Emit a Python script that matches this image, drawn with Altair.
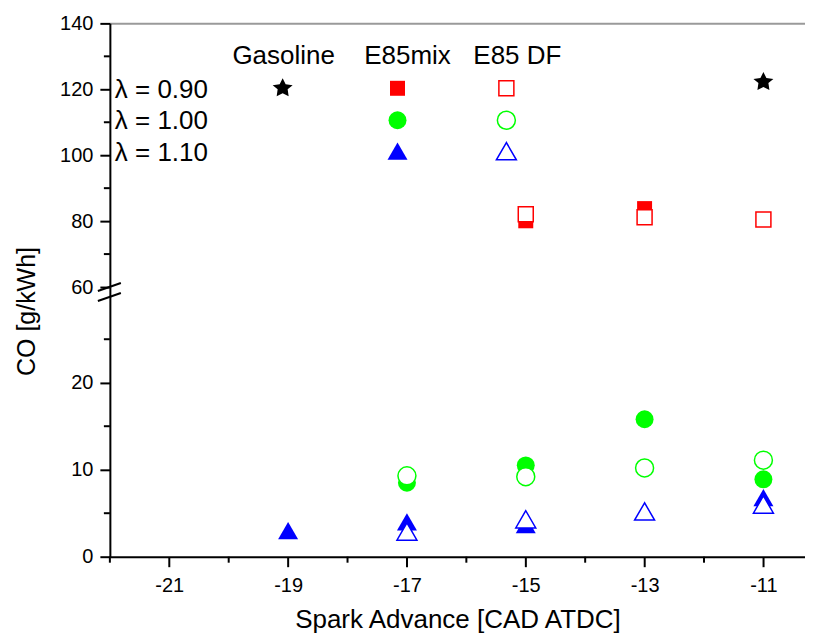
import altair as alt
import pandas as pd

FONT = "Liberation Sans"

# ---- data (Spark advance [CAD ATDC], CO [g/kWh]) ----
gas_l090_sa = [-11]
gas_l090_co = [122.2]
mix_l090_sa = [-15, -13]
mix_l090_co = [80.1, 83.8]
df_l090_sa = [-15, -13, -11]
df_l090_co = [82.1, 81.2, 80.5]
mix_l100_sa = [-17, -15, -13, -11]
mix_l100_co = [8.5, 10.5, 15.8, 8.9]
df_l100_sa = [-17, -15, -13, -11]
df_l100_co = [9.3, 9.2, 10.2, 11.1]
mix_l110_sa = [-19, -17, -15, -11]
mix_l110_co = [3.0, 4.0, 3.7, 6.8]
df_l110_sa = [-17, -15, -13, -11]
df_l110_co = [2.9, 4.3, 5.2, 6.0]

x_major = [-21, -19, -17, -15, -13, -11]
x_minor = [-22, -20, -18, -16, -14, -12]
y_low_major = [0, 10, 20]
y_low_minor = [5, 15, 25]
y_up_major = [60, 80, 100, 120, 140]
y_up_minor = [70, 90, 110, 130]

fuel_labels = ["Gasoline", "E85mix", "E85 DF"]
lambda_labels = ["\u03bb = 0.90", "\u03bb = 1.00", "\u03bb = 1.10"]

# ---- layout ----
W = 696
H_UP = 264
H_LOW = 270
X_DOM = [-22, -10.3]
Y_UP = [60, 140]
Y_LOW = [0, 31]

RED, GREEN, BLUE = "#ff0000", "#00ff00", "#0000ff"
STAR = "M0,.5L.6,.8L.5,.1L1,-.3L.3,-.4L0,-1L-.3,-.4L-1,-.3L-.5,.1L-.6,.8L0,.5Z"
TRI = "triangle-up"
SZ_SQ, SZ_CI, SZ_TR, SZ_ST = 225, 324, 400, 400


def frame(sa, co):
    return pd.DataFrame({"sa": sa, "co": co})


one = pd.DataFrame({"k": [0]})

neg_label = "datum.value < 0 ? '-' + format(-datum.value, 'd') : format(datum.value, 'd')"

x_low = alt.X(
    "sa:Q",
    scale=alt.Scale(domain=X_DOM, nice=False, zero=False),
    axis=alt.Axis(
        values=x_major, labelExpr=neg_label, tickSize=10, labelPadding=9,
        title="Spark Advance [CAD ATDC]", titleFontSize=26, titlePadding=11,
        labelFontSize=20,
    ),
)
x_up = alt.X(
    "sa:Q",
    scale=alt.Scale(domain=X_DOM, nice=False, zero=False),
    axis=alt.Axis(orient="top", labels=False, ticks=False, title=None,
                  domainColor="#9a9a9a", domainWidth=2),
)
y_low = alt.Y(
    "co:Q",
    scale=alt.Scale(domain=Y_LOW, nice=False, zero=False),
    axis=alt.Axis(
        values=y_low_major, tickSize=10, labelFontSize=20, labelPadding=7,
        title="CO [g/kWh]", titleFontSize=25, titleX=-70, titleY=24,
        titleAngle=270, titleAlign="center", titleBaseline="bottom",
    ),
)
y_up = alt.Y(
    "co:Q",
    scale=alt.Scale(domain=Y_UP, nice=False, zero=False),
    axis=alt.Axis(values=y_up_major, tickSize=10, labelFontSize=20,
                  labelPadding=7, title=None),
)


def filled(data, shape, color, size, x, y):
    return alt.Chart(data).mark_point(
        shape=shape, filled=True, color=color, size=size, opacity=1
    ).encode(x=x, y=y)


def hollow(data, shape, color, size, x, y):
    return alt.Chart(data).mark_point(
        shape=shape, filled=True, fill="white", stroke=color, strokeWidth=1.5,
        size=size, opacity=1
    ).encode(x=x, y=y)


def text_at(txt, px, py, align="center"):
    return alt.Chart(one).mark_text(
        font=FONT, fontSize=26, color="black", align=align, baseline="middle"
    ).encode(x=alt.value(px), y=alt.value(py), text=alt.value(txt))


def sym_at(shape, color, size, px, py, open_=False):
    if open_:
        m = alt.Chart(one).mark_point(shape=shape, filled=True, fill="white",
                                      stroke=color, strokeWidth=1.5, size=size, opacity=1)
    else:
        m = alt.Chart(one).mark_point(shape=shape, filled=True, color=color,
                                      size=size, opacity=1)
    return m.encode(x=alt.value(px), y=alt.value(py))


# ---- upper panel (60 - 140) ----
up_minor = alt.Chart(frame([X_DOM[0]] * len(y_up_minor), y_up_minor)).mark_rule(
    color="black", strokeWidth=2
).encode(y=y_up, x=alt.value(-6), x2=alt.value(0))

upper = alt.layer(
    up_minor,
    filled(frame(mix_l090_sa, mix_l090_co), "square", RED, SZ_SQ, x_up, y_up),
    hollow(frame(df_l090_sa, df_l090_co), "square", RED, SZ_SQ, x_up, y_up),
    filled(frame(gas_l090_sa, gas_l090_co), STAR, "black", SZ_ST, x_up, y_up),
    # legend
    text_at(fuel_labels[0], 174, 33),
    text_at(fuel_labels[1], 298, 33),
    text_at(fuel_labels[2], 408, 33),
    text_at(lambda_labels[0], 5, 67, "left"),
    text_at(lambda_labels[1], 5, 98, "left"),
    text_at(lambda_labels[2], 5, 130, "left"),
    sym_at(STAR, "black", SZ_ST, 173, 65),
    sym_at("square", RED, SZ_SQ, 288, 65),
    sym_at("square", RED, SZ_SQ, 397, 65, True),
    sym_at("circle", GREEN, SZ_CI, 288, 97),
    sym_at("circle", GREEN, SZ_CI, 397, 97, True),
    sym_at(TRI, BLUE, SZ_TR, 288, 128),
    sym_at(TRI, BLUE, SZ_TR, 397, 128, True),
).properties(width=W, height=H_UP)

# ---- lower panel (0 - 31) ----
low_minor_y = alt.Chart(frame([X_DOM[0]] * len(y_low_minor), y_low_minor)).mark_rule(
    color="black", strokeWidth=2
).encode(y=y_low, x=alt.value(-6), x2=alt.value(0))
low_minor_x = alt.Chart(frame(x_minor, [0] * len(x_minor))).mark_rule(
    color="black", strokeWidth=2
).encode(x=x_low, y=alt.value(H_LOW), y2=alt.value(H_LOW + 6))

slash1 = alt.Chart(one).mark_rule(color="black", strokeWidth=2).encode(
    x=alt.value(-12), y=alt.value(4), x2=alt.value(11), y2=alt.value(-4))
slash2 = alt.Chart(one).mark_rule(color="black", strokeWidth=2).encode(
    x=alt.value(-12), y=alt.value(14), x2=alt.value(11), y2=alt.value(6))

lower = alt.layer(
    low_minor_y,
    low_minor_x,
    filled(frame(mix_l100_sa, mix_l100_co), "circle", GREEN, SZ_CI, x_low, y_low),
    hollow(frame(df_l100_sa, df_l100_co), "circle", GREEN, SZ_CI, x_low, y_low),
    filled(frame(mix_l110_sa, mix_l110_co), TRI, BLUE, SZ_TR, x_low, y_low),
    hollow(frame(df_l110_sa, df_l110_co), TRI, BLUE, SZ_TR, x_low, y_low),
    slash1,
    slash2,
).properties(width=W, height=H_LOW)

chart = alt.vconcat(upper, lower, spacing=0, bounds="flush").properties(
    padding={"left": 6, "top": 5, "right": 0, "bottom": 0}
).configure_view(stroke=None).configure_axis(
    domainColor="black", domainWidth=2, tickColor="black", tickWidth=2,
    labelFont=FONT, titleFont=FONT, labelColor="black", titleColor="black",
    titleFontWeight="normal", grid=False,
)

chart.save("out.html", embed_options={"renderer": "svg", "actions": False})
